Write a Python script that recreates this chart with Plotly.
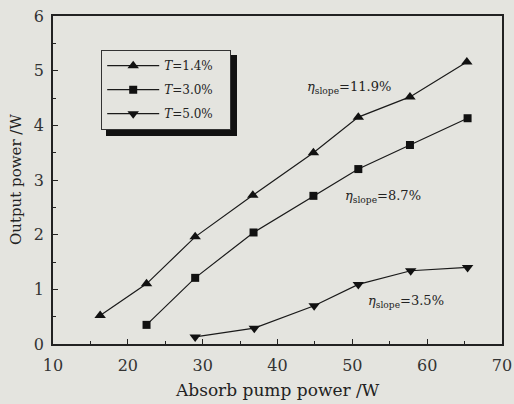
import plotly.graph_objects as go

pump_t14 = [16.3, 22.5, 29.0, 36.7, 44.8, 50.8, 57.7, 65.3]
power_t14 = [0.52, 1.10, 1.96, 2.72, 3.50, 4.15, 4.52, 5.16]
pump_t30 = [22.5, 29.0, 36.8, 44.8, 50.8, 57.7, 65.4]
power_t30 = [0.35, 1.21, 2.04, 2.71, 3.20, 3.64, 4.13]
pump_t50 = [29.0, 36.9, 44.9, 50.8, 57.8, 65.4]
power_t50 = [0.13, 0.29, 0.70, 1.09, 1.34, 1.40]
series_names = ["<i>T</i>=1.4%\u00a0\u00a0\u00a0", "<i>T</i>=3.0%\u00a0\u00a0\u00a0", "<i>T</i>=5.0%\u00a0\u00a0\u00a0"]
slope_labels = ["<i>η</i><sub>slope</sub>=11.9%", "<i>η</i><sub>slope</sub>=8.7%", "<i>η</i><sub>slope</sub>=3.5%"]
slope_pos = [(49.6, 4.70), (54.1, 2.70), (57.2, 0.77)]
x_title = "Absorb pump power /W"
y_title = "Output power /W"

FONT = "DejaVu Serif"
BG = "#e4e4df"
L, R, T, B = 53, 12, 16, 60
PW, PH = 514 - L - R, 404 - T - B

fig = go.Figure()
for i, (xs, ys, name, sym) in enumerate([
    (pump_t14, power_t14, series_names[0], "triangle-up"),
    (pump_t30, power_t30, series_names[1], "square"),
    (pump_t50, power_t50, series_names[2], "triangle-down"),
]):
    fig.add_trace(go.Scatter(
        x=xs, y=ys, name=name, mode="lines+markers", legendgroup=f"g{i}",
        line=dict(color="#1a1a1a", width=1.2),
        marker=dict(symbol=sym, size=10 if sym != "square" else 8, color="#111111"),
    ))

for (ax, ay), txt in zip(slope_pos, slope_labels):
    fig.add_annotation(x=ax, y=ay, text=txt, showarrow=False, xanchor="center",
                       font=dict(family=FONT, size=13, color="#222"))

# axis titles
fig.add_annotation(xref="paper", yref="paper", x=0.5, y=0, yshift=-46, text=x_title,
                   showarrow=False, xanchor="center", yanchor="middle",
                   font=dict(family=FONT, size=17, color="#222"))
fig.add_annotation(xref="paper", yref="paper", x=0, y=0.5, xshift=-37, text=y_title,
                   showarrow=False, textangle=-90, xanchor="center", yanchor="middle",
                   font=dict(family=FONT, size=15, color="#222"))

# legend shadow
fig.add_shape(type="rect", xref="paper", yref="paper",
              x0=(106 - L) / PW, x1=(237 - L) / PW,
              y0=(344 - 136) / PH, y1=(344 - 55) / PH,
              fillcolor="#111", line=dict(width=0), layer="below")

axis_common = dict(
    showline=True, linecolor="#222", linewidth=1.5, mirror=True, automargin=False,
    ticks="inside", ticklen=5, tickcolor="#222", showgrid=False, zeroline=False,
    tickfont=dict(family=FONT, size=16, color="#333"),
)
fig.update_xaxes(range=[10, 70], dtick=10, tick0=10, ticklabelstandoff=6,
                 minor=dict(ticks="inside", ticklen=3, dtick=5, tickcolor="#222"),
                 **axis_common)
fig.update_yaxes(range=[0, 6], dtick=1, ticklabelstandoff=4,
                 minor=dict(ticks="inside", ticklen=3, dtick=0.5, tickcolor="#222"),
                 **axis_common)

fig.update_layout(
    width=514, height=404,
    margin=dict(l=L, r=R, t=T, b=B, autoexpand=False),
    paper_bgcolor=BG, plot_bgcolor=BG,
    showlegend=True,
    legend=dict(x=(101 - L) / PW, y=(344 - 50) / PH, xanchor="left", yanchor="top",
                bgcolor=BG, bordercolor="#333", borderwidth=1.2,
                font=dict(family=FONT, size=12, color="#222"),
                itemwidth=52, tracegroupgap=5),
)
fig.write_html("out.html", config={"displayModeBar": False},
               post_script="document.body.style.margin='0';")
